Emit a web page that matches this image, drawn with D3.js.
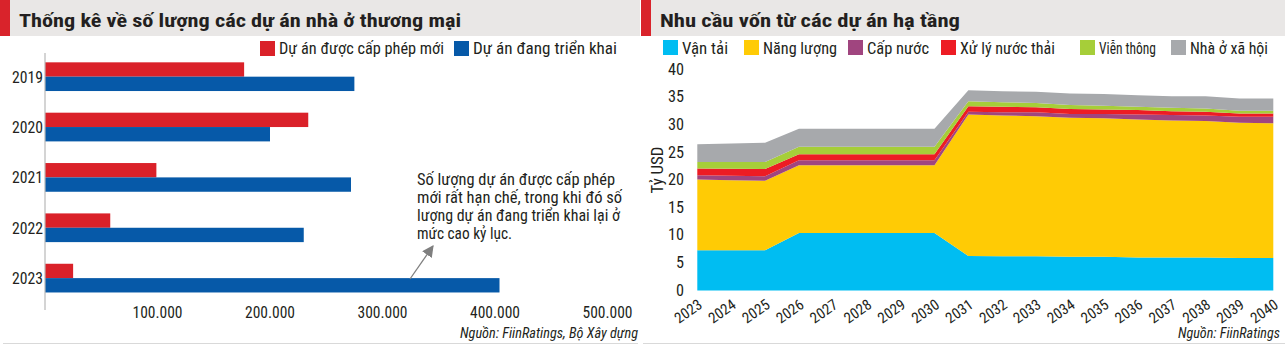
<!DOCTYPE html>
<html>
<head>
<meta charset="utf-8">
<script src="https://cdn.jsdelivr.net/npm/d3@7"></script>
<style>
  body { margin: 0; background: #fff; }
  svg text { font-family: "Liberation Sans Narrow", "Roboto Condensed", "DejaVu Sans Condensed", Roboto, sans-serif; fill: #231f20; }
</style>
</head>
<body>
<svg id="chart" width="1285" height="352"></svg>
<script>
// left chart data
const years = ["2019", "2020", "2021", "2022", "2023"];
const newPermits = [177000, 234000, 99000, 58000, 25000];
const ongoing = [275000, 200000, 272000, 230000, 404000];
const leftTicks = [100000, 200000, 300000, 400000, 500000];
const noteLines = [
  "Số lượng dự án được cấp phép",
  "mới rất hạn chế, trong khi đó số",
  "lượng dự án đang triển khai lại ở",
  "mức cao kỷ lục."
];

// right chart data (tỷ USD)
const periods = ["2023", "2024", "2025", "2026", "2027", "2028", "2029", "2030", "2031",
  "2032", "2033", "2034", "2035", "2036", "2037", "2038", "2039", "2040"];
const vanTai = [7.3, 7.3, 7.3, 10.4, 10.4, 10.4, 10.4, 10.4, 6.25, 6.2, 6.2, 6.1, 6.1, 6.0, 6.0, 6.0, 5.9, 5.9];
const nangLuong = [12.8, 12.7, 12.6, 12.3, 12.3, 12.3, 12.3, 12.3, 25.65, 25.5, 25.4, 25.2, 25.1, 25.0, 24.8, 24.7, 24.5, 24.4];
const capNuoc = [0.8, 0.8, 0.8, 0.9, 0.9, 0.9, 0.9, 0.9, 0.5, 0.6, 0.7, 0.7, 0.8, 0.9, 1.0, 1.0, 1.1, 1.2];
const xuLyNuocThai = [1.2, 1.25, 1.3, 1.1, 1.1, 1.1, 1.1, 1.1, 1.0, 1.0, 0.9, 0.9, 0.8, 0.8, 0.7, 0.7, 0.6, 0.6];
const vienThong = [1.2, 1.25, 1.3, 1.35, 1.35, 1.35, 1.35, 1.35, 0.9, 0.8, 0.8, 0.7, 0.7, 0.6, 0.6, 0.6, 0.5, 0.5];
const nhaOXaHoi = [3.2, 3.35, 3.5, 3.25, 3.25, 3.25, 3.25, 3.25, 2.0, 2.0, 2.0, 2.1, 2.1, 2.1, 2.1, 2.2, 2.2, 2.2];
const seriesNames = ["Vận tải", "Năng lượng", "Cấp nước", "Xử lý nước thải", "Viễn thông", "Nhà ở xã hội"];
const seriesColors = ["#00bdf2", "#ffcb05", "#a0457f", "#ed1c24", "#a6ce39", "#a7a9ac"];
const rightTicks = [0, 5, 10, 15, 20, 25, 30, 35, 40];

const svg = d3.select("#chart");
svg.append("rect").attr("width", 1285).attr("height", 352).attr("fill", "#fff");

// no condensed font installed: squeeze the short labels to the reference widths
const squeeze = (sel, w) => sel.attr("textLength", w).attr("lengthAdjust", "spacingAndGlyphs");

// title bands
function titleBand(x0, x1, label, textWidth) {
  svg.append("rect").attr("x", x0).attr("y", 0).attr("width", x1 - x0).attr("height", 36).attr("fill", "#e9e7e6");
  svg.append("rect").attr("x", x0).attr("y", 0).attr("width", 10).attr("height", 36).attr("fill", "#d9232b");
  svg.append("text").attr("x", x0 + 19).attr("y", 27)
    .attr("font-size", 19).attr("font-weight", "bold")
    .call(squeeze, textWidth)
    .text(label);
}
titleBand(0, 640, "Thống kê về số lượng các dự án nhà ở thương mại", 442);
titleBand(641, 1285, "Nhu cầu vốn từ các dự án hạ tầng", 300);

// bottom rules
svg.append("line").attr("x1", 3).attr("x2", 638).attr("y1", 343.5).attr("y2", 343.5).attr("stroke", "#d9d9d9");
svg.append("line").attr("x1", 643).attr("x2", 1285).attr("y1", 343.5).attr("y2", 343.5).attr("stroke", "#d9d9d9");

// ---------- left: horizontal bars
const red = "#da2129", blue = "#0659a8";
const x = d3.scaleLinear().domain([0, 500000]).range([45, 607.5]);
const y = d3.scaleBand().domain(years).range([51.5, 303.3]).paddingInner(0.43).paddingOuter(0.215);
const sub = d3.scaleBand().domain(["new", "ongoing"]).range([0, y.bandwidth()]);

const left = svg.append("g");
const groups = left.selectAll(".yr").data(years).enter().append("g")
  .attr("transform", d => `translate(0,${y(d)})`);
groups.append("rect")
  .attr("x", x(0)).attr("y", sub("new"))
  .attr("width", (d, i) => x(newPermits[i]) - x(0)).attr("height", sub.bandwidth())
  .attr("fill", red);
groups.append("rect")
  .attr("x", x(0)).attr("y", sub("ongoing"))
  .attr("width", (d, i) => x(ongoing[i]) - x(0)).attr("height", sub.bandwidth())
  .attr("fill", blue);

left.append("line").attr("x1", 45).attr("x2", 45).attr("y1", 53).attr("y2", 310)
  .attr("stroke", "#b8b8b8").attr("stroke-width", 1.2);

left.selectAll(".ylab").data(years).enter().append("text")
  .attr("x", 43).attr("y", d => y(d) + y.bandwidth() / 2 + 6)
  .attr("text-anchor", "end").attr("font-size", 17).call(squeeze, 31).text(d => d);

const fmt = v => d3.format(",")(v).replace(/,/g, ".");
left.selectAll(".xlab").data(leftTicks).enter().append("text")
  .attr("x", d => x(d)).attr("y", 318)
  .attr("text-anchor", "middle").attr("font-size", 16).call(squeeze, 50).text(d => fmt(d));

// left legend
const lleg = [["Dự án được cấp phép mới", red, 279, 165], ["Dự án đang triển khai", blue, 473, 144]];
lleg.forEach(([t, c, tx, w]) => {
  svg.append("rect").attr("x", tx - 19).attr("y", 41).attr("width", 15).attr("height", 15).attr("fill", c);
  svg.append("text").attr("x", tx).attr("y", 54).attr("font-size", 16).call(squeeze, w).text(t);
});

// annotation
const noteWidths = [198, 205, 203, 95];
svg.selectAll(".note").data(noteLines).enter().append("text")
  .attr("x", 417).attr("y", (d, i) => 185 + i * 18)
  .attr("font-size", 16)
  .attr("textLength", (d, i) => noteWidths[i]).attr("lengthAdjust", "spacingAndGlyphs")
  .text(d => d);
svg.append("defs").append("marker")
  .attr("id", "arr").attr("viewBox", "0 0 10 10").attr("refX", 9).attr("refY", 5)
  .attr("markerWidth", 9).attr("markerHeight", 9).attr("orient", "auto")
  .append("path").attr("d", "M0,0L10,5L0,10z").attr("fill", "#7f7f7f");
svg.append("line").attr("x1", 410).attr("y1", 279).attr("x2", 433).attr("y2", 246)
  .attr("stroke", "#7f7f7f").attr("stroke-width", 1.3).attr("marker-end", "url(#arr)");

svg.append("text").attr("x", 638).attr("y", 338).attr("text-anchor", "end")
  .attr("font-size", 14).attr("font-style", "italic").call(squeeze, 178)
  .text("Nguồn: FiinRatings, Bộ Xây dựng");

// ---------- right: stacked area
const table = periods.map((p, i) => ({
  year: p,
  "Vận tải": vanTai[i],
  "Năng lượng": nangLuong[i],
  "Cấp nước": capNuoc[i],
  "Xử lý nước thải": xuLyNuocThai[i],
  "Viễn thông": vienThong[i],
  "Nhà ở xã hội": nhaOXaHoi[i]
}));
const stack = d3.stack().keys(seriesNames)(table);
const xr = d3.scalePoint().domain(periods).range([697.3, 1273.3]);
const yr = d3.scaleLinear().domain([0, 40]).range([290.5, 69.8]);
const area = d3.area()
  .x(d => xr(d.data.year))
  .y0(d => yr(d[0]))
  .y1(d => yr(d[1]));

const right = svg.append("g");
right.selectAll(".layer").data(stack).enter().append("path")
  .attr("d", area).attr("fill", (d, i) => seriesColors[i]);

right.selectAll(".ytick").data(rightTicks).enter().append("text")
  .attr("x", 684).attr("y", d => yr(d) + 5)
  .attr("text-anchor", "end").attr("font-size", 16)
  .attr("textLength", d => String(d).length * 8).attr("lengthAdjust", "spacingAndGlyphs")
  .text(d => d);

right.append("text")
  .attr("transform", "translate(663,170) rotate(-90)")
  .attr("text-anchor", "middle").attr("font-size", 16).call(squeeze, 47).text("Tỷ USD");

right.selectAll(".xtick").data(periods).enter().append("text")
  .attr("transform", d => `translate(${xr(d) + 6},307) rotate(-35)`)
  .attr("text-anchor", "end").attr("font-size", 15).text(d => d);

// right legend
const legX = [682, 763, 867, 960, 1099, 1190];
const legW = [46, 74, 62, 95, 57, 78];
seriesNames.forEach((n, i) => {
  svg.append("rect").attr("x", legX[i] - 19).attr("y", 40).attr("width", 15).attr("height", 15).attr("fill", seriesColors[i]);
  svg.append("text").attr("x", legX[i]).attr("y", 54).attr("font-size", 16).call(squeeze, legW[i]).text(n);
});

svg.append("text").attr("x", 1280).attr("y", 338).attr("text-anchor", "end")
  .attr("font-size", 14).attr("font-style", "italic").call(squeeze, 102)
  .text("Nguồn: FiinRatings");
</script>
</body>
</html>
